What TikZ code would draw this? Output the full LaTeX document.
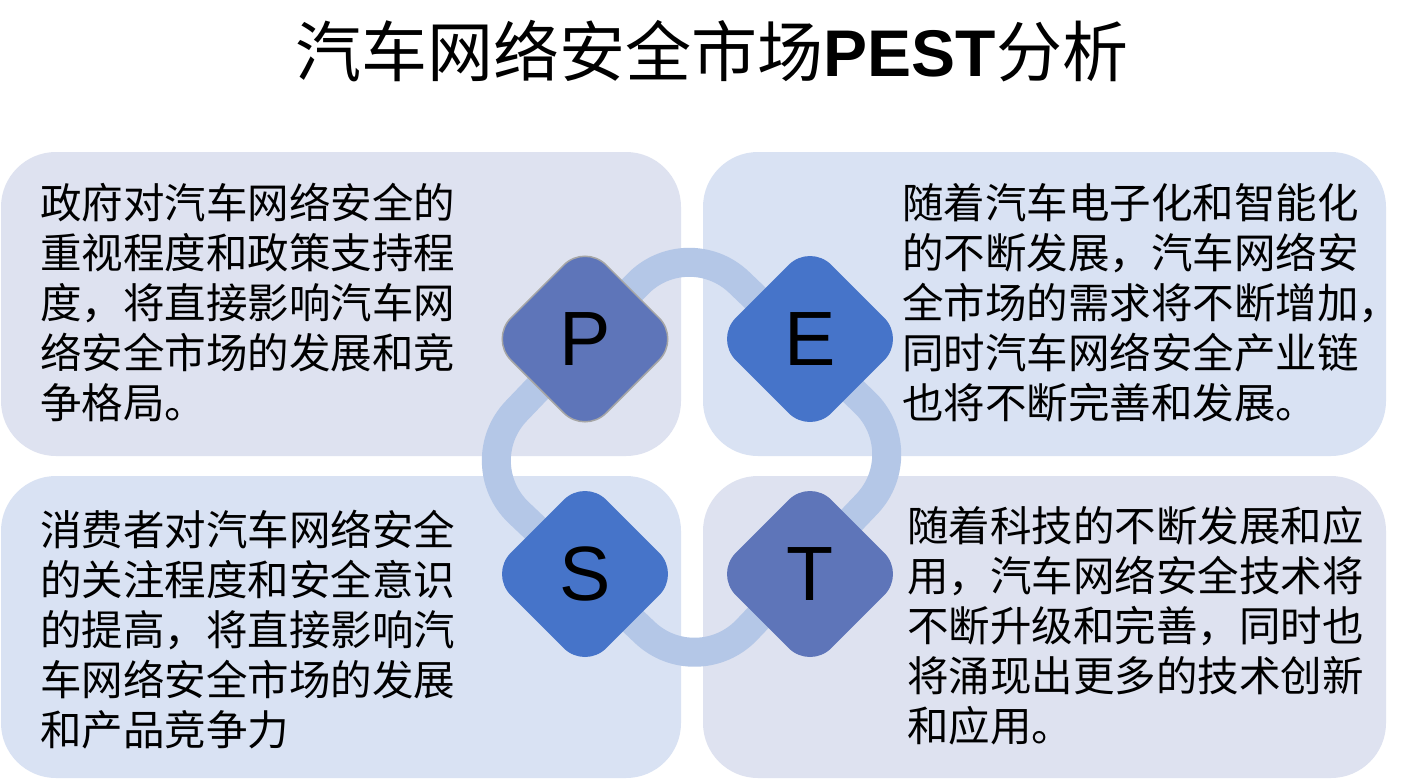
\documentclass[tikz,border=0pt]{standalone}
\usepackage{fontspec}
\setmainfont{Noto Sans CJK SC}
\newfontfamily\latinsans{Liberation Sans}
\usetikzlibrary{shapes.geometric}
\definecolor{boxlav}{HTML}{DEE2F0}
\definecolor{boxblue}{HTML}{D9E2F3}
\definecolor{dlav}{HTML}{5E75B9}
\definecolor{dblue}{HTML}{4674C9}
\definecolor{ringc}{HTML}{B4C7E7}
\definecolor{pborder}{HTML}{A6A6A6}
\begin{document}
\begin{tikzpicture}[x=1pt,y=-1pt,
  bg/.style={rounded corners=55pt},
  txt/.style={anchor=base west, inner sep=0pt, align=left,
    font=\fontsize{41.5}{50}\selectfont, text=black},
  dia/.style={diamond, aspect=1, minimum width=191pt, minimum height=191pt,
    inner sep=0pt, rounded corners=30pt,
    font=\latinsans\fontsize{77}{80}\selectfont, text=black},
  ring/.style={draw=ringc, line width=29pt, rounded corners=72pt}]
\useasboundingbox (0,0) rectangle (1401,780);
\fill[white] (0,0) rectangle (1401,780);
% quadrant boxes
\fill[boxlav, bg] (1,152) rectangle (681,456);
\fill[boxblue, bg] (703,152) rectangle (1386,456);
\fill[boxblue, bg] (1,476) rectangle (681,778);
\fill[boxlav, bg] (703,476) rectangle (1386,778);
% ring
\draw[ring] (687,232.5) -- (916.5,452) -- (697,682) -- (466.5,463) -- cycle;
% diamonds
\node[dia, fill=dlav, draw=pborder, line width=1.5pt] (P) at (585,339) {P};
\node[dia, fill=dblue] (E) at (810,339) {E};
\node[dia, fill=dblue] (S) at (585,574) {S};
\node[dia, fill=dlav] (T) at (810,574) {T};
% title
\node[anchor=base, inner sep=0pt, font=\fontsize{66}{70}\selectfont] (title) at (712,76)
  {汽车网络安全市场{\latinsans\bfseries PEST}分析};
% texts (anchor = baseline of the last line)
\node[txt] (ptext) at (40,418) {政府对汽车网络安全的\\重视程度和政策支持程\\度，将直接影响汽车网\\络安全市场的发展和竞\\争格局。};
\node[txt] (etext) at (902,418) {随着汽车电子化和智能化\\的不断发展，汽车网络安\\全市场的需求将不断增加，\\同时汽车网络安全产业链\\也将不断完善和发展。};
\node[txt] (stext) at (40,745) {消费者对汽车网络安全\\的关注程度和安全意识\\的提高，将直接影响汽\\车网络安全市场的发展\\和产品竞争力};
\node[txt] (ttext) at (907,741) {随着科技的不断发展和应\\用，汽车网络安全技术将\\不断升级和完善，同时也\\将涌现出更多的技术创新\\和应用。};
\end{tikzpicture}
\end{document}
